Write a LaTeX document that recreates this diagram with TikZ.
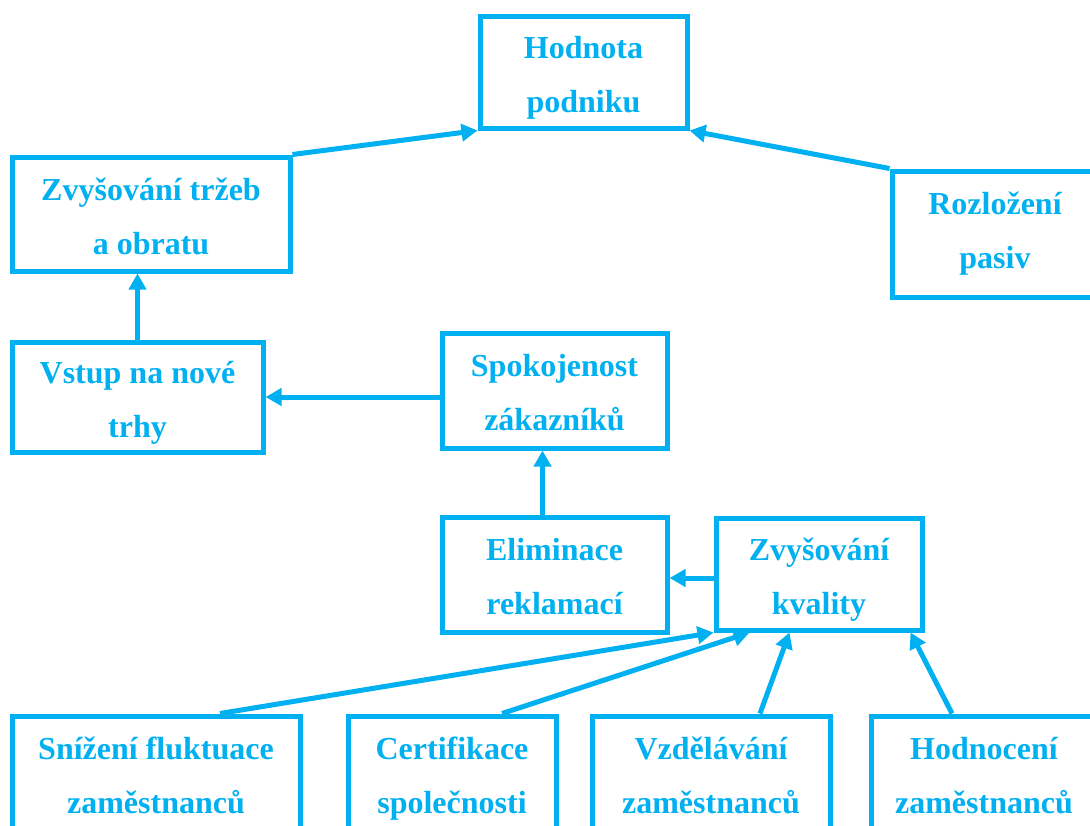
\documentclass[tikz,border=0pt]{standalone}
\usepackage{fontspec}
\setmainfont{Liberation Serif}
\usetikzlibrary{arrows.meta}
\definecolor{modra}{RGB}{0,176,240}
\tikzset{
    blok/.style={draw=modra, line width=5pt, text=modra, align=center,
        font=\bfseries\fontsize{32}{54}\selectfont, inner sep=0pt,
        text height=87pt, text depth=7pt, minimum height=114pt},
    sipka/.style={draw=modra, line width=5pt, -{Triangle[length=16pt,width=17pt]}}
}
\begin{document}
\begin{tikzpicture}[x=1pt,y=-1pt]
                    \useasboundingbox (0,0) rectangle (1090,825);
                    \clip (0,0) rectangle (1090,825);
                    \node [blok, minimum width=207pt, minimum height=112pt] (hodnota) at (583.5,72) {Hodnota\\podniku};
                    \node [blok, minimum width=278pt] (trzby) at (151,214) {Zvyšování tržeb\\a obratu};
                    \node [blok, minimum width=206pt, minimum height=126pt, text depth=19pt] (rozlozeni) at (995,234) {Rozložení\\pasiv};
                    \node [blok, minimum width=251pt, minimum height=110pt] (vstup) at (137.5,397) {Vstup na nové\\trhy};
                    \node [blok, minimum width=225pt, minimum height=115pt] (spokojenost) at (554.5,390.5) {Spokojenost\\zákazníků};
                    \node [blok, minimum width=225pt, minimum height=115pt] (eliminace) at (554.5,574.5) {Eliminace\\reklamací};
                    \node [blok, minimum width=206pt, minimum height=112pt] (kvalita) at (819,574) {Zvyšování\\kvality};
                    \node [blok, minimum width=288pt] (snizeni) at (156,773) {Snížení fluktuace\\zaměstnanců};
                    \node [blok, minimum width=208pt] (certifikace) at (452,773) {Certifikace\\společnosti};
                    \node [blok, minimum width=238pt] (vzdelavani) at (711,773) {Vzdělávání\\zaměstnanců};
                    \node [blok, minimum width=226pt] (hodnoceni) at (984,773) {Hodnocení\\zaměstnanců};
                    \draw [sipka] (trzby.north east) -- (hodnota.south west);
                    \draw [sipka] (rozlozeni.north west) -- (hodnota.south east);
                    \draw [sipka] (vstup.north) -- (vstup.north |- trzby.south);
                    \draw [sipka] (spokojenost.west |- vstup.east) -- (vstup.east);
                    \draw [sipka] ([xshift=-12pt]eliminace.north) -- ([xshift=-12pt]spokojenost.south);
                    \draw [sipka] ([yshift=-4pt]kvalita.west) -- ([yshift=-4pt]kvalita.west -| eliminace.east);
                    \draw [sipka] ([xshift=64pt]snizeni.north) -- (kvalita.south west);
                    \draw [sipka] ([xshift=50pt]certifikace.north) -- ([xshift=36pt]kvalita.south west);
                    \draw [sipka] ([xshift=49pt]vzdelavani.north) -- ([xshift=76pt]kvalita.south west);
                    \draw [sipka] ([xshift=-32pt]hodnoceni.north) -- ([xshift=-14pt]kvalita.south east);
                \end{tikzpicture}
\end{document}
